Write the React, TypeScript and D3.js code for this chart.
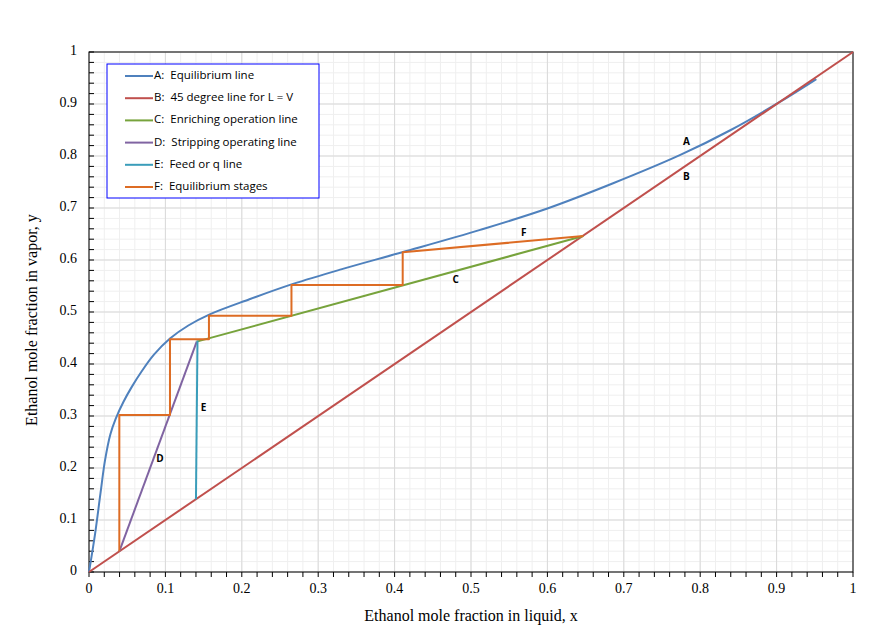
import React from "react";
import * as d3 from "d3";

const eqX = [0, 0.008, 0.015, 0.021, 0.028, 0.035, 0.045, 0.056, 0.069, 0.085, 0.106, 0.13, 0.158, 0.21, 0.267, 0.33, 0.41, 0.512, 0.6, 0.686, 0.774, 0.84, 0.902, 0.952];
const eqY = [0, 0.074, 0.151, 0.215, 0.265, 0.295, 0.327, 0.356, 0.386, 0.418, 0.449, 0.474, 0.4955, 0.5245, 0.554, 0.582, 0.615, 0.658, 0.699, 0.7475, 0.802, 0.85, 0.902, 0.948];
const diagX = [0, 1];
const diagY = [0, 1];
const enrichX = [0.141, 0.647];
const enrichY = [0.443, 0.646];
const stripX = [0.0397, 0.141];
const stripY = [0.0397, 0.443];
const feedX = [0.14, 0.142];
const feedY = [0.14, 0.445];
const stageX = [0.647, 0.4106, 0.4106, 0.265, 0.265, 0.157, 0.157, 0.106, 0.106, 0.0397, 0.0397];
const stageY = [0.646, 0.615, 0.552, 0.552, 0.493, 0.493, 0.4475, 0.4475, 0.302, 0.302, 0.0397];
const tickValues = [0, 0.1, 0.2, 0.3, 0.4, 0.5, 0.6, 0.7, 0.8, 0.9, 1];
const legendLabels = [
  "A:  Equilibrium line",
  "B:  45 degree line for L = V",
  "C:  Enriching operation line",
  "D:  Stripping operating line",
  "E:  Feed or q line",
  "F:  Equilibrium stages",
];
const seriesColors = ["#4f81bd", "#c0504d", "#77a33c", "#8064a2", "#3a9dba", "#dd6c24"];
const annotations = [
  { t: "A", x: 0.782, y: 0.826 },
  { t: "B", x: 0.782, y: 0.759 },
  { t: "C", x: 0.48, y: 0.56 },
  { t: "D", x: 0.093, y: 0.216 },
  { t: "E", x: 0.15, y: 0.314 },
  { t: "F", x: 0.569, y: 0.651 },
];

export default function App() {
  const W = 892, H = 643;
  const L = 89, R = 853, T = 52, B = 572;
  const x = d3.scaleLinear().domain([0, 1]).range([L, R]);
  const y = d3.scaleLinear().domain([0, 1]).range([B, T]);
  const minor = d3.range(0, 1.0001, 0.02);

  const mk = (xs: number[], ys: number[], curve: any = d3.curveLinear) =>
    d3.line<number>().x((_, i) => x(xs[i])).y((_, i) => y(ys[i])).curve(curve)(xs) || "";

  const series = [
    mk(eqX, eqY, d3.curveCatmullRom.alpha(0.5)),
    mk(diagX, diagY),
    mk(enrichX, enrichY),
    mk(stripX, stripY),
    mk(feedX, feedY),
    mk(stageX, stageY),
  ];

  const legX = 107, legY = 64, legW = 212, legH = 134;
  const fmt = (v: number) => String(+v.toFixed(1));

  return (
    <svg width={W} height={H} style={{ position: "absolute", left: 0, top: 0, background: "#fff" }}>
      <rect x={0} y={0} width={W} height={H} fill="#fff" />
      {minor.map((v, i) => (
        <g key={"m" + i}>
          <line x1={x(v)} x2={x(v)} y1={T} y2={B} stroke="#efefef" strokeWidth={1} />
          <line x1={L} x2={R} y1={y(v)} y2={y(v)} stroke="#efefef" strokeWidth={1} />
        </g>
      ))}
      {tickValues.map((v, i) => (
        <g key={"M" + i}>
          <line x1={x(v)} x2={x(v)} y1={T} y2={B} stroke="#d9d9d9" strokeWidth={1} />
          <line x1={L} x2={R} y1={y(v)} y2={y(v)} stroke="#d9d9d9" strokeWidth={1} />
        </g>
      ))}
      {minor.map((v, i) => (
        <g key={"t" + i}>
          <line x1={x(v)} x2={x(v)} y1={B} y2={B + 5} stroke="#000" strokeWidth={1} />
          <line x1={L} x2={L + 5} y1={y(v)} y2={y(v)} stroke="#000" strokeWidth={1} />
        </g>
      ))}
      <rect x={L} y={T} width={R - L} height={B - T} fill="none" stroke="#000" strokeWidth={1} />
      {series.map((d, i) => (
        <path key={"s" + i} d={d} fill="none" stroke={seriesColors[i]} strokeWidth={2} strokeLinejoin="round" />
      ))}
      {annotations.map((a, i) => (
        <text key={"a" + i} x={x(a.x)} y={y(a.y)} fontFamily="'Open Sans', sans-serif" fontSize={10} fontWeight="bold" textAnchor="middle" dominantBaseline="middle" fill="#000">
          {a.t}
        </text>
      ))}
      {tickValues.map((v, i) => (
        <g key={"l" + i} fontFamily="'Liberation Serif', serif" fontSize={14} fill="#000">
          <text x={x(v)} y={B + 18} textAnchor="middle" dominantBaseline="middle">{fmt(v)}</text>
          <text x={L - 12} y={y(v)} textAnchor="end" dominantBaseline="middle">{fmt(v)}</text>
        </g>
      ))}
      <text x={(L + R) / 2} y={617} textAnchor="middle" dominantBaseline="middle" fontFamily="'Liberation Serif', serif" fontSize={16} fill="#000">
        Ethanol mole fraction in liquid, x
      </text>
      <text transform={`translate(33, ${(T + B) / 2 + 8}) rotate(-90)`} textAnchor="middle" dominantBaseline="middle" fontFamily="'Liberation Serif', serif" fontSize={16} fill="#000">
        Ethanol mole fraction in vapor, y
      </text>
      <rect x={legX} y={legY} width={legW} height={legH} fill="#fff" stroke="#0000ff" strokeWidth={1} />
      {legendLabels.map((t, i) => {
        const cy = 76 + i * 22.2;
        return (
          <g key={"g" + i}>
            <line x1={125} x2={153} y1={cy} y2={cy} stroke={seriesColors[i]} strokeWidth={2} />
            <text x={154} y={cy} dominantBaseline="middle" fontFamily="'Open Sans', sans-serif" fontSize={11.5} fill="#000" style={{ whiteSpace: "pre" }}>{t}</text>
          </g>
        );
      })}
    </svg>
  );
}
